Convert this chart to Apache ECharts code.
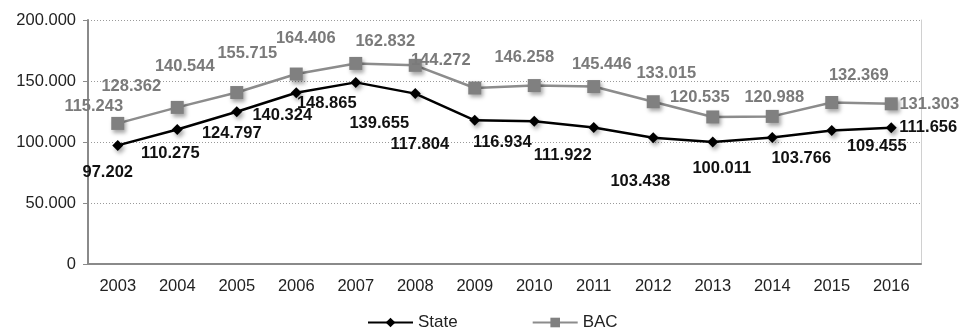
<!DOCTYPE html>
<html>
<head>
<meta charset="utf-8">
<script src="https://cdn.jsdelivr.net/npm/echarts@6/dist/echarts.min.js"></script>
<style>
  html, body { margin: 0; padding: 0; background: #fff; }
  #chart { width: 961px; height: 329px; }
</style>
</head>
<body>
<div id="chart"></div>
<script>
const years = ['2003','2004','2005','2006','2007','2008','2009','2010','2011','2012','2013','2014','2015','2016'];
const stateValues = [97202, 110275, 124797, 140324, 148865, 139655, 117804, 116934, 111922, 103438, 100011, 103766, 109455, 111656];
const bacValues = [115243, 128362, 140544, 155715, 164406, 162832, 144272, 146258, 145446, 133015, 120535, 120988, 132369, 131303];
const yTicks = [0, 50000, 100000, 150000, 200000];

// Label placement (pixel offsets from each marker), kept apart from the values
const stateLabelOffsets = [[-10,27],[-7,24],[-5,22],[-14,23],[-29,21],[-36,30],[-55,24],[-32,21],[-31,28],[-13,44],[9,26],[29,21],[45,16],[37,0]];
const bacLabelOffsets = [[-24,-17],[-46,-21],[-52,-26],[-49,-21],[-50,-25],[-30,-24],[-34,-28],[-10,-28],[8,-22],[13,-28],[-13,-19],[2,-19],[27,-27],[38,1]];

function fmt(v) {
  if (v === 0) return '0';
  const s = String(Math.round(v));
  return s.replace(/\B(?=(\d{3})+(?!\d))/g, '.');
}

const FONT = '"Liberation Sans", Arial, sans-serif';

function withLabels(values, offsets) {
  return values.map((v, i) => ({
    value: v,
    label: { offset: offsets[i] }
  }));
}

const chart = echarts.init(document.getElementById('chart'), null, { renderer: 'canvas' });
chart.setOption({
  animation: false,
  backgroundColor: '#ffffff',
  grid: { left: 88, right: 40, top: 20, bottom: 65, containLabel: false },
  legend: {
    top: 309,
    left: 362,
    itemGap: 74,
    itemWidth: 45,
    itemHeight: 12,
    textStyle: { fontFamily: FONT, fontSize: 17, color: '#222' },
    data: ['State', 'BAC']
  },
  xAxis: {
    type: 'category',
    data: years,
    boundaryGap: true,
    axisLine: { lineStyle: { color: '#8a8a8a', width: 2 } },
    axisTick: { show: false },
    axisLabel: { fontFamily: FONT, fontSize: 16.5, color: '#222', margin: 14 }
  },
  yAxis: [{
    type: 'value',
    min: 0,
    max: 200000,
    interval: 50000,
    axisLine: { show: true, lineStyle: { color: '#8a8a8a', width: 2 } },
    axisTick: { show: true, length: 5, lineStyle: { color: '#8a8a8a' } },
    axisLabel: {
      fontFamily: FONT, fontSize: 16.5, color: '#222', margin: 12,
      formatter: v => (yTicks.indexOf(v) >= 0 ? fmt(v) : '')
    },
    splitLine: { show: true, lineStyle: { color: '#9a9a9a', type: [1, 2], width: 1 } }
  }, {
    type: 'value',
    position: 'right',
    min: 0,
    max: 200000,
    interval: 50000,
    axisLine: { show: true, lineStyle: { color: '#d0d0d0', width: 1 } },
    axisTick: { show: false },
    axisLabel: { show: false },
    splitLine: { show: false }
  }],
  series: [{
    name: 'State',
    type: 'line',
    data: withLabels(stateValues, stateLabelOffsets),
    symbol: 'diamond',
    symbolSize: 11,
    lineStyle: { color: '#000', width: 2.5 },
    itemStyle: { color: '#000', shadowBlur: 4, shadowColor: 'rgba(0,0,0,0.35)', shadowOffsetX: 2, shadowOffsetY: 3 },
    label: {
      show: true,
      position: 'inside',
      fontFamily: FONT, fontSize: 16.5, fontWeight: 'bold', color: '#111',
      formatter: p => fmt(p.value)
    },
    z: 3
  }, {
    name: 'BAC',
    type: 'line',
    data: withLabels(bacValues, bacLabelOffsets),
    symbol: 'rect',
    symbolSize: 13,
    lineStyle: { color: '#8c8c8c', width: 2.5 },
    itemStyle: { color: '#808080', shadowBlur: 4, shadowColor: 'rgba(0,0,0,0.35)', shadowOffsetX: 2, shadowOffsetY: 3 },
    label: {
      show: true,
      position: 'inside',
      fontFamily: FONT, fontSize: 16.5, fontWeight: 'bold', color: '#7a7a7a',
      formatter: p => fmt(p.value)
    },
    z: 2
  }]
});
</script>
</body>
</html>
